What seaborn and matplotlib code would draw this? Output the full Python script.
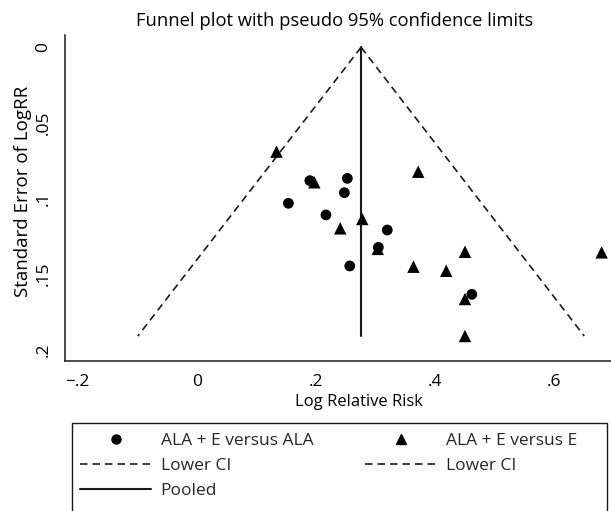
import matplotlib
matplotlib.use("Agg")
import matplotlib.pyplot as plt
import matplotlib.patches as mpatches
from matplotlib.lines import Line2D
import seaborn as sns
import pandas as pd

# ---- data ----
ala_logrr = [0.190, 0.253, 0.248, 0.154, 0.217, 0.257, 0.320, 0.305, 0.462]
ala_se = [0.0883, 0.0868, 0.0963, 0.1033, 0.111, 0.1448, 0.121, 0.1325, 0.1636]

e_logrr = [0.134, 0.1975, 0.241, 0.372, 0.278, 0.304, 0.4505, 0.364, 0.419, 0.4505, 0.4505, 0.680]
e_se = [0.0691, 0.0894, 0.1199, 0.0824, 0.1137, 0.1335, 0.1354, 0.1453, 0.148, 0.1667, 0.1912, 0.1358]

ci_se = [0.0, 0.1912]
lower_ci = [0.276, -0.0988]
upper_ci = [0.276, 0.6508]
pooled_x = [0.276, 0.276]

group_labels = ["ALA + E versus ALA", "ALA + E versus E"]
x_ticks = [-0.2, 0.0, 0.2, 0.4, 0.6]
x_ticklabels = ["\u2212.2", "0", ".2", ".4", ".6"]
y_ticks = [0.0, 0.05, 0.1, 0.15, 0.2]
y_ticklabels = ["0", ".05", ".1", ".15", ".2"]

df = pd.DataFrame({
    "logrr": ala_logrr + e_logrr,
    "se": ala_se + e_se,
    "group": [group_labels[0]] * len(ala_logrr) + [group_labels[1]] * len(e_logrr),
})

sns.set_style("white")
FONT = ["Open Sans", "DejaVu Sans"]
plt.rcParams["font.family"] = FONT
INK = "#1a1a1a"
DASH = (0, (4.5, 3))

W, H = 611, 511
fig = plt.figure(figsize=(W / 100, H / 100), dpi=100)
L, R, B, T = 65.3, 611, 361, 35
ax = fig.add_axes([L / W, 1 - B / H, (R - L) / W, (B - T) / H])

# lines
ax.plot(lower_ci, ci_se, color=INK, lw=1.2, ls=DASH, zorder=2)
ax.plot(upper_ci, ci_se, color=INK, lw=1.2, ls=DASH, zorder=2)
ax.plot(pooled_x, ci_se, color=INK, lw=1.5, zorder=2)

# points
sns.scatterplot(data=df, x="logrr", y="se", style="group",
                markers={group_labels[0]: "o", group_labels[1]: "^"},
                size="group", sizes={group_labels[0]: 60, group_labels[1]: 80},
                color="black", edgecolor="none", linewidth=0, legend=False,
                ax=ax, zorder=3)

x0 = (L - 196.7) / 595.5
x1 = (R - 196.7) / 595.5
ax.set_xlim(x0, x1)
ax.set_ylim((B - 47.3) / 1510, (T - 47.3) / 1510)

ax.set_xticks(x_ticks)
ax.set_xticklabels(x_ticklabels)
ax.set_yticks(y_ticks)
ax.set_yticklabels(y_ticklabels, rotation=90, va="center")

for s in ["top", "right"]:
    ax.spines[s].set_visible(False)
for s in ["left", "bottom"]:
    ax.spines[s].set_color(INK)
    ax.spines[s].set_linewidth(1.1)

ax.tick_params(axis="both", direction="out", length=5, width=1.1, color=INK,
               labelsize=12.5, labelcolor="black")
ax.tick_params(axis="x", pad=4)
ax.tick_params(axis="y", pad=5)

ax.set_xlabel("Log Relative Risk", fontsize=12, color="black")
ax.set_ylabel("Standard Error of LogRR", fontsize=13.5, color="black")
ax.xaxis.label.set_va("center")
ax.yaxis.label.set_va("center")
ax.xaxis.set_label_coords((359 - L) / (R - L), (B - 402) / (B - T))
ax.yaxis.set_label_coords((23.3 - L) / (R - L), (B - 191) / (B - T))

fig.text(335 / W, 1 - 21 / H, "Funnel plot with pseudo 95% confidence limits",
         ha="center", va="center", fontsize=13.2, color="black")

# legend box
rect = mpatches.Rectangle((72.3 / W, -0.05), (606.7 - 72.3) / W, (1 - 423 / H) + 0.05,
                          transform=fig.transFigure, fill=False, edgecolor=INK,
                          linewidth=1.0)
fig.patches.append(rect)

handles = [
    Line2D([], [], ls="none", marker="o", color="black", markersize=6.5),
    Line2D([], [], color=INK, lw=1.2, ls=DASH),
    Line2D([], [], color=INK, lw=1.5),
    Line2D([], [], ls="none", marker="^", color="black", markersize=7.5),
    Line2D([], [], color=INK, lw=1.2, ls=DASH),
]
labels = [group_labels[0], "Lower CI", "Pooled", group_labels[1], "Lower CI"]
leg = fig.legend(handles, labels, ncol=2, loc="upper left",
                 bbox_to_anchor=(80 / W, 1 - 433 / H), frameon=False,
                 fontsize=12.5, handlelength=4.1, handletextpad=0.55,
                 columnspacing=3.0, labelspacing=0.5, borderpad=0,
                 borderaxespad=0)

fig.savefig("out.png", dpi=100)
